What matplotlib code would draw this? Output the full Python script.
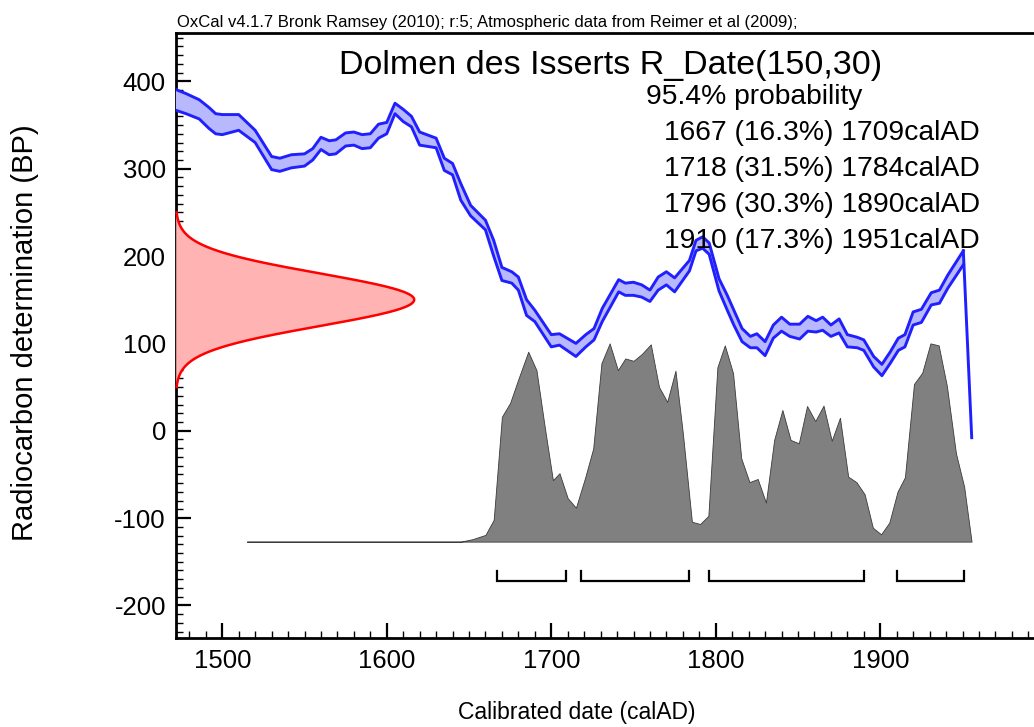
import numpy as np
import matplotlib
matplotlib.use('Agg')
import matplotlib.pyplot as plt
from matplotlib.ticker import MultipleLocator

plt.rcParams['font.family'] = ['Liberation Sans', 'DejaVu Sans']
plt.rcParams['axes.unicode_minus'] = False

# R_Date(150,30): radiocarbon measurement (BP) and its error
R_MEAN = 150
R_SIGMA = 30

# calibration curve (IntCal09 band), calAD vs BP
cal_year = [1470, 1478, 1486, 1492, 1496, 1500, 1510, 1520, 1530, 1535,
            1542, 1550, 1555, 1560, 1565, 1569, 1575, 1580, 1585, 1590,
            1595, 1600, 1605, 1610, 1615, 1620, 1630, 1635, 1640, 1645,
            1651, 1660, 1665, 1670, 1676, 1680, 1685, 1690, 1700, 1705,
            1715, 1721, 1726, 1731, 1741, 1745, 1750, 1755, 1760, 1765,
            1770, 1775, 1784, 1788, 1792, 1796, 1802, 1807, 1811, 1816,
            1821, 1825, 1830, 1835, 1840, 1845, 1851, 1856, 1861, 1865,
            1870, 1875, 1880, 1886, 1890, 1896, 1901, 1906, 1911, 1915,
            1920, 1925, 1931, 1936, 1941, 1950.5]
cal_upper = [392, 386, 379, 370, 363, 362, 362, 344, 314, 312,
             316, 317, 323, 336, 332, 333, 341, 342, 339, 340,
             351, 353, 375, 368, 360, 342, 335, 312, 306, 283,
             258, 241, 218, 187, 182, 176, 150, 138, 110, 111,
             100, 110, 117, 140, 173, 169, 170, 167, 161, 176,
             182, 175, 195, 218, 222, 215, 174, 155, 138, 117,
             108, 111, 102, 121, 130, 122, 122, 131, 126, 130,
             121, 128, 110, 107, 104, 85, 76, 90, 106, 110,
             136, 139, 158, 161, 178, 206]
cal_lower = [368, 363, 357, 346, 340, 339, 344, 330, 299, 297,
             301, 303, 310, 322, 316, 317, 326, 327, 323, 324,
             335, 340, 363, 354, 348, 327, 324, 298, 293, 264,
             246, 230, 200, 172, 169, 161, 132, 125, 96, 98,
             85, 96, 104, 125, 159, 155, 155, 153, 148, 161,
             167, 159, 183, 206, 209, 202, 160, 138, 121, 102,
             95, 95, 86, 106, 114, 108, 105, 114, 113, 115,
             108, 112, 96, 95, 92, 73, 63, 77, 92, 96,
             121, 124, 144, 146, 163, 190]
# post-bomb end of the curve
tail_year = [1950.5, 1955.6]
tail_bp = [206, -8]

# calibrated probability (relative to the maximum)
prob_year = [1515, 1645, 1652, 1660, 1665, 1670, 1675, 1680, 1686, 1691,
             1696, 1701, 1705, 1710, 1715, 1720.5, 1725.5, 1730.5, 1735.5,
             1740.5, 1745, 1750, 1755, 1760.5, 1765.5, 1770.5, 1775.5, 1780,
             1785.5, 1790.5, 1795.5, 1801, 1805.5, 1810.5, 1815.5, 1820.5,
             1825.5, 1830.5, 1835.5, 1840.5, 1845.5, 1850.5, 1855.5, 1860.5,
             1865.5, 1870.5, 1875.5, 1880.5, 1885.5, 1890.5, 1895.5, 1900.5,
             1905.5, 1910.5, 1915, 1920.5, 1925.5, 1930.5, 1935.5, 1940.5,
             1946, 1951, 1955.5]
prob = [0, 0, 0.012, 0.034, 0.11, 0.63, 0.70, 0.82, 0.958, 0.865,
        0.58, 0.31, 0.345, 0.219, 0.171, 0.32, 0.47, 0.90, 1.0,
        0.865, 0.924, 0.912, 0.946, 0.995, 0.78, 0.705, 0.862, 0.546,
        0.10, 0.089, 0.13, 0.88, 0.99, 0.85, 0.42, 0.30,
        0.316, 0.197, 0.513, 0.664, 0.513, 0.496, 0.684, 0.608,
        0.686, 0.509, 0.625, 0.328, 0.30, 0.239, 0.07, 0.037,
        0.096, 0.252, 0.325, 0.795, 0.852, 1.0, 0.99, 0.785,
        0.446, 0.277, 0]

# 95.4% ranges
range_start = [1667, 1718, 1796, 1910]
range_end = [1709, 1784, 1890, 1951]
range_pct = [16.3, 31.5, 30.3, 17.3]

XMIN, XMAX = 1471.7, 1995
YMIN, YMAX = -237.7, 455.4

W, H = 1034, 727


def fpos(x, y):
    return x / W, 1 - y / H


fig = plt.figure(figsize=(W / 100, H / 100), dpi=100)
ax_w = (XMAX - XMIN) * 1.645
ax = fig.add_axes([175.7 / W, 1 - 638.3 / H, ax_w / W, 605.3 / H])
ax.set_xlim(XMIN, XMAX)
ax.set_ylim(YMIN, YMAX)

# calibrated distribution (grey)
base, span = -127, 227
py = base + span * np.array(prob)
ax.fill_between(prob_year, base, py, facecolor='#808080',
                edgecolor='#3a3a3a', linewidth=0.6, zorder=2)

# radiocarbon date (red) on the y axis
bp = np.linspace(R_MEAN - 100, R_MEAN + 100, 300)
g = np.exp(-0.5 * ((bp - R_MEAN) / R_SIGMA) ** 2)
rx = XMIN + 145 * g
ax.fill_betweenx(bp, XMIN, rx, color='#ffb3b3', lw=0, zorder=3)
ax.plot(rx, bp, color='#ff0000', lw=1.8, zorder=4, clip_on=False)

# calibration curve band
ax.fill_between(cal_year, cal_lower, cal_upper, color='#b8b8ff', lw=0, zorder=3)
ax.plot(cal_year, cal_upper, color='#2020ff', lw=2.1, zorder=4)
ax.plot(cal_year, cal_lower, color='#2020ff', lw=2.1, zorder=4)
ax.plot(tail_year, tail_bp, color='#2020ff', lw=2.1, zorder=4)

# range brackets
for a, b in zip(range_start, range_end):
    ax.plot([a, a, b, b], [-161, -172, -172, -161], color='black',
            lw=1.6, zorder=4, solid_joinstyle='miter')

# axes styling
for side in ['left', 'bottom', 'top']:
    ax.spines[side].set_linewidth(2)
ax.spines['right'].set_visible(False)
ax.xaxis.set_major_locator(MultipleLocator(100))
ax.xaxis.set_minor_locator(MultipleLocator(10))
ax.yaxis.set_major_locator(MultipleLocator(100))
ax.yaxis.set_minor_locator(MultipleLocator(10))
ax.tick_params(which='major', direction='in', length=11, width=1.6,
               labelsize=18.5, top=False, right=False)
ax.tick_params(which='minor', direction='in', length=5, width=1,
               top=False, right=False)
ax.tick_params(axis='y', pad=7)
ax.tick_params(axis='x', pad=8)

# labels and annotations
fig.text(*fpos(25, 333), 'Radiocarbon determination (BP)', rotation=90,
         ha='center', va='center', fontsize=21)
fig.text(*fpos(577, 712), 'Calibrated date (calAD)', ha='center',
         va='center', fontsize=16.5)
fig.text(*fpos(177, 27),
         'OxCal v4.1.7 Bronk Ramsey (2010); r:5; '
         'Atmospheric data from Reimer et al (2009);',
         ha='left', va='baseline', fontsize=12)
fig.text(*fpos(611, 74), 'Dolmen des Isserts R_Date(%d,%d)' % (R_MEAN, R_SIGMA),
         ha='center', va='baseline', fontsize=24.5)
fig.text(*fpos(646, 104), '95.4% probability', ha='left', va='baseline',
         fontsize=20.3)
for i, (a, b, p) in enumerate(zip(range_start, range_end, range_pct)):
    fig.text(*fpos(980, 140 + 36 * i), '%d (%.1f%%) %dcalAD' % (a, p, b),
             ha='right', va='baseline', fontsize=20.3)

fig.savefig('out.png', dpi=100)
